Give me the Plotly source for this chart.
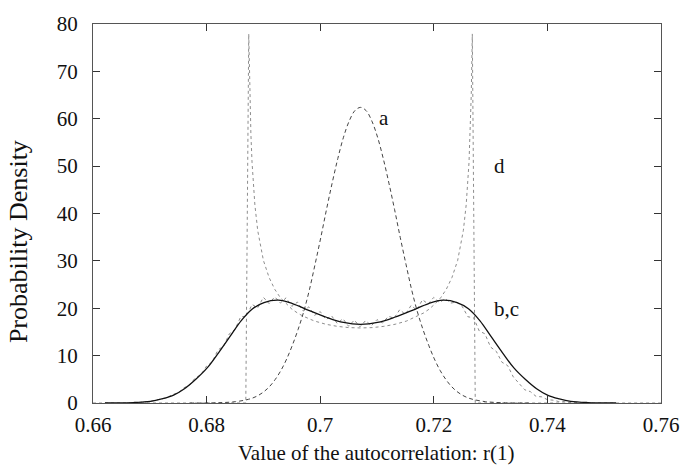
import plotly.graph_objects as go

# ---- data ----
# curve a (dashed, bell shaped)
a_x = [0.6771, 0.6821, 0.6851, 0.6871, 0.6881, 0.6891, 0.6901, 0.6911, 0.6921, 0.6931,
       0.6941, 0.6951, 0.6961, 0.6971, 0.6981, 0.6991, 0.7001, 0.7011, 0.7021, 0.7031,
       0.7041, 0.7051, 0.7061, 0.7071, 0.7081, 0.7091, 0.7101, 0.7111, 0.7121, 0.7131,
       0.7141, 0.7151, 0.7161, 0.7171, 0.7181, 0.7191, 0.7201, 0.7211, 0.7221, 0.7231,
       0.7241, 0.7251, 0.7261, 0.7271, 0.7291, 0.7321, 0.7371]
a_y = [0.0, 0.06, 0.28, 0.7, 1.05, 1.6, 2.4, 3.5, 5.0, 6.9,
       9.3, 12.2, 15.5, 19.3, 23.9, 29.3, 34.9, 40.8, 46.4, 51.6,
       56.1, 59.5, 61.7, 62.4, 61.7, 59.5, 56.1, 51.6, 46.4, 40.8,
       34.9, 29.3, 23.9, 19.3, 15.5, 12.2, 9.3, 6.9, 5.0, 3.5,
       2.4, 1.6, 1.05, 0.7, 0.28, 0.06, 0.0]

# curve b (solid, smooth bimodal)
b_x = [0.6621, 0.6671, 0.6701, 0.6721, 0.6741, 0.6761, 0.6781, 0.6801, 0.6821, 0.6841,
       0.6861, 0.6881, 0.6901, 0.6926, 0.6951, 0.6981, 0.7011, 0.7041, 0.7071,
       0.7101, 0.7131, 0.7161, 0.7191, 0.7216, 0.7241, 0.7261, 0.7281, 0.7301, 0.7321,
       0.7341, 0.7361, 0.7381, 0.7401, 0.7421, 0.7441, 0.7471, 0.7521]
b_y = [0.0, 0.1, 0.35, 0.85, 1.6, 3.0, 5.0, 7.4, 10.6, 14.0,
       17.4, 19.9, 21.2, 21.7, 21.0, 19.5, 18.1, 17.0, 16.6,
       17.0, 18.1, 19.5, 21.0, 21.7, 21.2, 19.9, 17.4, 14.0, 10.6,
       7.4, 5.0, 3.0, 1.6, 0.85, 0.35, 0.1, 0.0]

# curve c (dotted, noisy histogram)
c_x = [round(0.666 + 0.001 * k, 3) for k in range(83)]
c_y = [0.0, 0.1, 0.2, 0.3, 0.3, 0.6, 0.9, 1.1, 1.8, 2.1,
       3.2, 3.8, 5.3, 6.0, 7.8, 8.7, 11.2, 12.0, 14.6, 15.5,
       18.2, 18.3, 20.8, 20.1, 22.3, 21.0, 22.4, 21.1, 22.2, 20.4,
       21.3, 19.4, 20.3, 18.5, 19.3, 17.6, 18.4, 16.8, 17.8, 16.2,
       17.5, 16.1, 17.4, 16.3, 17.6, 16.9, 18.3, 17.9, 19.7, 18.7,
       20.6, 19.6, 21.8, 20.9, 22.3, 21.2, 22.0, 21.1, 21.3, 20.4,
       18.2, 18.0, 15.2, 14.6, 11.8, 10.9, 8.6, 7.9, 5.5, 4.2,
       2.8, 2.4, 1.4, 1.3, 0.7, 0.6, 0.3, 0.3, 0.1, 0.1,
       0.0, 0.1, 0.0]

# curve d (dotted, U shaped with vertical edges)
d_x = [0.6600, 0.6869, 0.68742, 0.6876, 0.6878, 0.6880, 0.6885, 0.6890, 0.6900, 0.6910,
       0.6920, 0.6930, 0.6940, 0.6950, 0.6960, 0.6970, 0.6990, 0.7010, 0.7030, 0.7050,
       0.7071, 0.7092, 0.7112, 0.7132, 0.7152, 0.7172, 0.7182, 0.7192, 0.7202, 0.7212,
       0.7222, 0.7232, 0.7242, 0.7252, 0.7257, 0.7262, 0.7264, 0.7266, 0.72678, 0.7273,
       0.7600]
d_y = [0.0, 0.0, 77.9, 65.3, 56.7, 50.8, 41.8, 36.4, 30.1, 26.5,
       24.0, 22.2, 20.9, 19.83, 19.0, 18.32, 17.30, 16.62, 16.18, 15.92,
       15.84, 15.92, 16.18, 16.62, 17.30, 18.32, 19.0, 19.83, 20.9, 22.2,
       24.0, 26.5, 30.1, 36.4, 41.8, 50.8, 56.7, 65.3, 77.9, 0.0,
       0.0]

x_ticks = [0.66, 0.68, 0.70, 0.72, 0.74, 0.76]
x_tick_text = ["0.66", "0.68", "0.7", "0.72", "0.74", "0.76"]
y_ticks = [0, 10, 20, 30, 40, 50, 60, 70, 80]

labels = ["a", "d", "b,c"]
label_x = [0.7112, 0.7316, 0.7328]
label_y = [60.2, 50.0, 19.8]

x_title = "Value of the autocorrelation: r(1)"
y_title = "Probability Density"

FONT = "Liberation Serif, Times New Roman, serif"
INK = "#111111"

fig = go.Figure()
fig.add_trace(go.Scatter(x=c_x, y=c_y, mode="lines",
                         line=dict(color="#8a8a8a", width=1, dash="dot")))
fig.add_trace(go.Scatter(x=d_x, y=d_y, mode="lines",
                         line=dict(color="#808080", width=0.9, dash="dot")))
fig.add_trace(go.Scatter(x=a_x, y=a_y, mode="lines", line_shape="spline",
                         line=dict(color="#444444", width=1, dash="4px,3px")))
fig.add_trace(go.Scatter(x=b_x, y=b_y, mode="lines", line_shape="spline",
                         line=dict(color=INK, width=1.3)))

for t, x, y in zip(labels, label_x, label_y):
    fig.add_annotation(x=x, y=y, text=t, showarrow=False,
                       font=dict(family=FONT, size=21, color=INK))

# axis titles
fig.add_annotation(xref="paper", yref="paper", x=0.499, y=-0.132, text=x_title,
                   showarrow=False, xanchor="center", yanchor="middle",
                   font=dict(family=FONT, size=21, color=INK))
fig.add_annotation(xref="paper", yref="paper", x=-0.130, y=0.425, text=y_title,
                   showarrow=False, xanchor="center", yanchor="middle", textangle=-90,
                   font=dict(family=FONT, size=26, color=INK))

axis_common = dict(showgrid=False, zeroline=False, showline=True, linecolor="#555555",
                   linewidth=1.2, mirror="ticks", ticks="inside", ticklen=7,
                   tickcolor="#333333", tickwidth=1,
                   tickfont=dict(family=FONT, size=21, color=INK))

fig.update_xaxes(range=[0.66, 0.76], tickvals=x_ticks, ticktext=x_tick_text,
                 ticklabelstandoff=3, **axis_common)
fig.update_yaxes(range=[0, 80], tickvals=y_ticks,
                 ticklabelstandoff=10, **axis_common)

fig.update_layout(width=691, height=466, showlegend=False,
                  margin=dict(l=93, r=23, t=16, b=63),
                  paper_bgcolor="white", plot_bgcolor="white")

fig.write_html("out.html")
